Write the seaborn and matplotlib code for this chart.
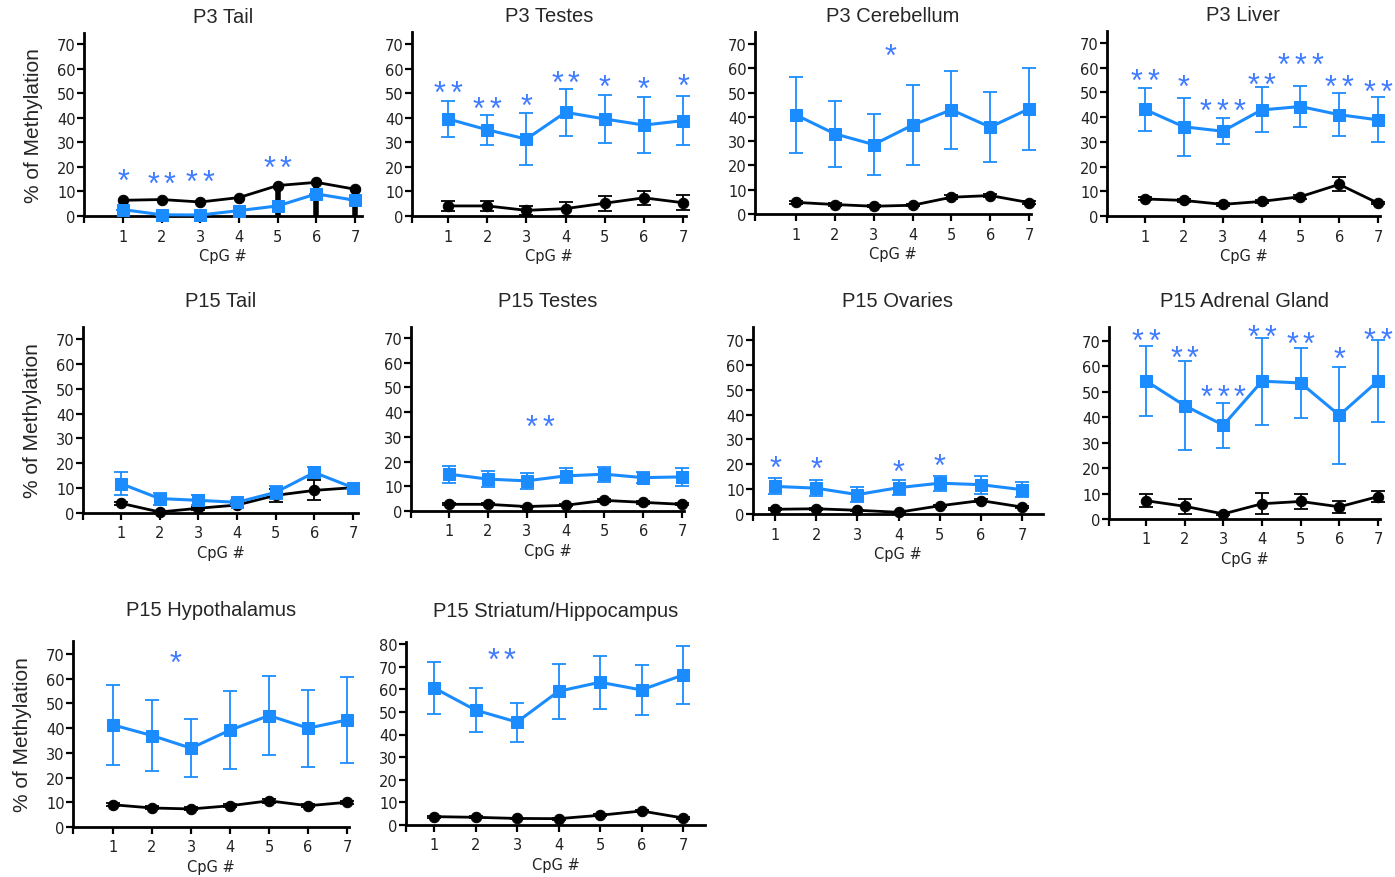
import numpy as np
import pandas as pd
import matplotlib
matplotlib.use("Agg")
import matplotlib.pyplot as plt
import seaborn as sns

sns.set_style("ticks")
plt.rcParams['font.family'] = ['DejaVu Sans']

# Colores
azul = '#1a8cff'
azul_estrella = '#3f7bff'
negro = 'black'

cpg = [1, 2, 3, 4, 5, 6, 7]

# ---------------- datos ----------------
# P3 Tail
p3_tail_azul = [2.6, 0.5, 0.4, 2.2, 4.1, 9.0, 6.4]
p3_tail_azul_err = [0, 0, 0, 0, 0, 0, 0]
p3_tail_negro = [6.4, 6.7, 5.7, 7.5, 12.4, 13.7, 10.9]
p3_tail_negro_err = [0, 0, 0, 0, 0, 0, 0]
p3_tail_negro_err_inf = [0, 0, 0, 0, 12.4, 13.7, 10.9]
p3_tail_est_x = [1, 2, 3, 5]
p3_tail_est_y = [17.9, 16.3, 17.1, 22.8]
p3_tail_est = ['*', '**', '**', '**']

# P3 Testes
p3_testes_azul = [39.5, 35.1, 31.3, 42.2, 39.5, 37.0, 38.8]
p3_testes_azul_err = [7.2, 6.1, 10.5, 9.5, 9.7, 11.4, 10.1]
p3_testes_negro = [4.1, 4.1, 2.3, 3.0, 5.2, 7.4, 5.4]
p3_testes_negro_err = [2.2, 2.2, 1.8, 2.9, 3.1, 2.8, 3.0]
p3_testes_est_x = [1, 2, 3, 4, 5, 6, 7]
p3_testes_est_y = [53.4, 47.0, 48.3, 57.5, 56.1, 55.2, 56.4]
p3_testes_est = ['**', '**', '*', '**', '*', '*', '*']

# P3 Cerebellum
p3_cereb_azul = [40.8, 33.0, 28.6, 36.6, 42.9, 35.8, 43.3]
p3_cereb_azul_err = [15.7, 13.7, 12.7, 16.6, 16.1, 14.3, 16.9]
p3_cereb_negro = [4.8, 3.9, 3.2, 3.6, 6.9, 7.6, 4.7]
p3_cereb_negro_err = [0.5, 0.5, 0.5, 0.5, 0.8, 0.8, 0.5]
p3_cereb_est_x = [3.44]
p3_cereb_est_y = [68.4]
p3_cereb_est = ['*']

# P3 Liver
p3_liver_azul = [43.1, 36.1, 34.3, 42.9, 44.3, 41.0, 38.9]
p3_liver_azul_err = [8.7, 11.7, 5.3, 9.1, 8.2, 8.7, 9.1]
p3_liver_negro = [6.9, 6.3, 4.7, 5.9, 7.8, 12.8, 5.2]
p3_liver_negro_err = [0.6, 0.6, 0.5, 0.6, 0.8, 2.8, 0.5]
p3_liver_est_x = [1, 2, 3, 4, 5, 6, 7]
p3_liver_est_y = [57.9, 55.7, 46.0, 56.5, 64.5, 55.5, 53.7]
p3_liver_est = ['**', '*', '***', '**', '***', '**', '**']

# P15 Tail
p15_tail_azul = [11.8, 5.8, 5.1, 4.3, 8.3, 16.3, 10.2]
p15_tail_azul_err = [4.7, 2.4, 2.0, 1.0, 2.7, 2.3, 0.5]
p15_tail_negro = [3.9, 0.4, 1.9, 3.2, 7.1, 9.1, 10.2]
p15_tail_negro_err = [0.5, 0.3, 0.5, 0.5, 2.5, 4.0, 0.5]
p15_tail_est_x = []
p15_tail_est_y = []
p15_tail_est = []

# P15 Testes
p15_testes_azul = [14.9, 12.9, 12.2, 14.2, 14.9, 13.5, 13.8]
p15_testes_azul_err = [3.4, 3.1, 3.1, 3.0, 3.1, 2.3, 3.5]
p15_testes_negro = [2.7, 2.7, 1.8, 2.3, 4.3, 3.5, 2.7]
p15_testes_negro_err = [0.4, 0.4, 0.3, 0.4, 0.5, 0.5, 0.4]
p15_testes_est_x = [3.35]
p15_testes_est_y = [37.5]
p15_testes_est = ['**']

# P15 Ovaries
p15_ovarios_azul = [11.1, 10.4, 7.8, 10.6, 12.4, 11.8, 9.8]
p15_ovarios_azul_err = [3.2, 3.3, 2.9, 3.1, 3.0, 3.6, 2.9]
p15_ovarios_negro = [1.9, 2.1, 1.5, 0.7, 3.3, 5.4, 2.8]
p15_ovarios_negro_err = [0.4, 0.4, 0.3, 0.3, 0.5, 0.6, 0.4]
p15_ovarios_est_x = [1, 2, 4, 5]
p15_ovarios_est_y = [22.1, 21.7, 20.5, 22.8]
p15_ovarios_est = ['*', '*', '*', '*']

# P15 Adrenal Gland
p15_adrenal_azul = [54.3, 44.6, 36.9, 54.2, 53.5, 40.8, 54.3]
p15_adrenal_azul_err = [13.6, 17.6, 8.8, 17.1, 13.6, 19.0, 16.0]
p15_adrenal_negro = [7.2, 5.0, 2.0, 6.0, 6.9, 4.8, 8.8]
p15_adrenal_negro_err = [2.6, 2.9, 0.3, 4.1, 2.9, 2.4, 2.1]
p15_adrenal_est_x = [1, 2, 3, 4, 5, 6, 7]
p15_adrenal_est_y = [73.3, 66.7, 51.3, 74.8, 72.2, 66.3, 73.7]
p15_adrenal_est = ['**', '**', '***', '**', '**', '*', '**']

# P15 Hypothalamus
p15_hipot_azul = [41.3, 37.0, 31.9, 39.2, 45.1, 40.0, 43.3]
p15_hipot_azul_err = [16.1, 14.5, 11.6, 15.9, 15.9, 15.6, 17.4]
p15_hipot_negro = [9.0, 7.7, 7.3, 8.6, 10.6, 8.6, 10.0]
p15_hipot_negro_err = [0.6, 0.6, 0.6, 0.6, 0.8, 0.6, 0.6]
p15_hipot_est_x = [2.59]
p15_hipot_est_y = [70.0]
p15_hipot_est = ['*']

# P15 Striatum/Hippocampus
p15_estriado_azul = [60.6, 50.8, 45.5, 59.1, 63.1, 59.7, 66.3]
p15_estriado_azul_err = [11.4, 9.6, 8.6, 12.1, 11.7, 11.2, 12.8]
p15_estriado_negro = [3.7, 3.4, 2.9, 2.8, 4.3, 6.2, 3.1]
p15_estriado_negro_err = [0.4, 0.4, 0.4, 0.4, 0.5, 0.6, 0.4]
p15_estriado_est_x = [2.63]
p15_estriado_est_y = [76.8]
p15_estriado_est = ['**']

# Tabla de paneles + ubicación en píxeles (izq, der, tick1, tick7, y0, yref_px, arriba, yref)
paneles = [
    dict(titulo='P3 Tail', azul=p3_tail_azul, azul_err=p3_tail_azul_err,
         negro=p3_tail_negro, negro_err=p3_tail_negro_err, negro_err_inf=p3_tail_negro_err_inf,
         ex=p3_tail_est_x, ey=p3_tail_est_y, et=p3_tail_est,
         caja=(84, 362, 123, 355, 217, 45, 34, 70), pad=8, ylab=True),
    dict(titulo='P3 Testes', azul=p3_testes_azul, azul_err=p3_testes_azul_err,
         negro=p3_testes_negro, negro_err=p3_testes_negro_err,
         ex=p3_testes_est_x, ey=p3_testes_est_y, et=p3_testes_est,
         caja=(412, 686, 448, 683, 217, 45, 33, 70), pad=8, ylab=False),
    dict(titulo='P3 Cerebellum', azul=p3_cereb_azul, azul_err=p3_cereb_azul_err,
         negro=p3_cereb_negro, negro_err=p3_cereb_negro_err,
         ex=p3_cereb_est_x, ey=p3_cereb_est_y, et=p3_cereb_est,
         caja=(755, 1031, 796, 1029, 215, 45, 33, 70), pad=8, ylab=False),
    dict(titulo='P3 Liver', azul=p3_liver_azul, azul_err=p3_liver_azul_err,
         negro=p3_liver_negro, negro_err=p3_liver_negro_err,
         ex=p3_liver_est_x, ey=p3_liver_est_y, et=p3_liver_est,
         caja=(1107, 1380, 1145, 1378, 217, 44, 32, 70), pad=8, ylab=False),
    dict(titulo='P15 Tail', azul=p15_tail_azul, azul_err=p15_tail_azul_err,
         negro=p15_tail_negro, negro_err=p15_tail_negro_err,
         ex=p15_tail_est_x, ey=p15_tail_est_y, et=p15_tail_est,
         caja=(83, 358, 121, 353, 514, 340, 328, 70), pad=15, ylab=True),
    dict(titulo='P15 Testes', azul=p15_testes_azul, azul_err=p15_testes_azul_err,
         negro=p15_testes_negro, negro_err=p15_testes_negro_err,
         ex=p15_testes_est_x, ey=p15_testes_est_y, et=p15_testes_est,
         caja=(411, 684, 449, 682, 512, 339, 328, 70), pad=15, ylab=False),
    dict(titulo='P15 Ovaries', azul=p15_ovarios_azul, azul_err=p15_ovarios_azul_err,
         negro=p15_ovarios_negro, negro_err=p15_ovarios_negro_err,
         ex=p15_ovarios_est_x, ey=p15_ovarios_est_y, et=p15_ovarios_est,
         caja=(753, 1043, 775, 1022, 515, 341, 328, 70), pad=15, ylab=False),
    dict(titulo='P15 Adrenal Gland', azul=p15_adrenal_azul, azul_err=p15_adrenal_azul_err,
         negro=p15_adrenal_negro, negro_err=p15_adrenal_negro_err,
         ex=p15_adrenal_est_x, ey=p15_adrenal_est_y, et=p15_adrenal_est,
         caja=(1109, 1380, 1146, 1378, 520, 342, 328, 70), pad=15, ylab=False),
    dict(titulo='P15 Hypothalamus', azul=p15_hipot_azul, azul_err=p15_hipot_azul_err,
         negro=p15_hipot_negro, negro_err=p15_hipot_negro_err,
         ex=p15_hipot_est_x, ey=p15_hipot_est_y, et=p15_hipot_est,
         caja=(73, 349, 113, 347, 828, 655, 642, 70), pad=19, ylab=True),
    dict(titulo='P15 Striatum/Hippocampus', azul=p15_estriado_azul, azul_err=p15_estriado_azul_err,
         negro=p15_estriado_negro, negro_err=p15_estriado_negro_err,
         ex=p15_estriado_est_x, ey=p15_estriado_est_y, et=p15_estriado_est,
         caja=(406, 705, 434, 683, 826, 645, 643, 80), pad=19, ylab=False),
]

W, H = 1395, 878
fig = plt.figure(figsize=(W / 100, H / 100), dpi=100)

tam_estrella = 22
paso_estrella = 12  # puntos entre asteriscos

for p in paneles:
    izq, der, t1, t7, y0, yr_px, arriba, yref = p['caja']
    ax = fig.add_axes([izq / W, 1 - y0 / H, (der - izq) / W, (y0 - arriba) / H])
    s = (t7 - t1) / 6
    xmin = 1 - (t1 - izq) / s
    xmax = 7 + (der - t7) / s
    ymax = yref * (y0 - arriba) / (y0 - yr_px)

    # barras de error negras
    if 'negro_err_inf' in p:
        ax.errorbar(cpg, p['negro'], yerr=[p['negro_err_inf'], p['negro_err']], fmt='none',
                    ecolor=negro, elinewidth=4, capsize=0, zorder=2, clip_on=False)
    else:
        ax.errorbar(cpg, p['negro'], yerr=p['negro_err'], fmt='none', ecolor=negro,
                    elinewidth=1.3, capsize=5, capthick=1.3, zorder=2, clip_on=False)
    sns.lineplot(x=cpg, y=p['negro'], color=negro, marker='o', markersize=7.5,
                 markeredgecolor=negro, linewidth=2, ax=ax, zorder=3, clip_on=False)

    # serie azul
    ax.errorbar(cpg, p['azul'], yerr=p['azul_err'], fmt='none', ecolor=azul,
                elinewidth=1.3, capsize=5, capthick=1.3, zorder=4, clip_on=False)
    sns.lineplot(x=cpg, y=p['azul'], color=azul, marker='s', markersize=8.5,
                 markeredgecolor=azul, linewidth=2.2, ax=ax, zorder=5, clip_on=False)

    # asteriscos de significancia (uno por uno para controlar el espaciado)
    for x, y, t in zip(p['ex'], p['ey'], p['et']):
        n = len(t)
        for i in range(n):
            dx = (i - (n - 1) / 2) * paso_estrella
            ax.annotate('*', xy=(x, y), xytext=(dx, -0.57 * tam_estrella),
                        textcoords='offset points', ha='center', va='baseline',
                        fontsize=tam_estrella, color=azul_estrella,
                        family='Liberation Sans', annotation_clip=False)

    ax.set_xlim(xmin, xmax)
    ax.set_ylim(0, ymax)
    ax.set_xticks([xmin] + cpg)
    ax.set_xticklabels([''] + [str(c) for c in cpg])
    ax.set_yticks(np.arange(0, yref + 1, 10))
    ax.tick_params(axis='both', direction='out', length=5, width=1.6, labelsize=10.5,
                   color='black', labelcolor='#222222')
    ax.tick_params(axis='x', pad=4)
    ax.tick_params(axis='y', pad=1)
    sns.despine(ax=ax)
    for lado in ['left', 'bottom']:
        ax.spines[lado].set_linewidth(2)
        ax.spines[lado].set_color('black')

    ax.set_title(p['titulo'], fontsize=14.5, family='Liberation Sans', pad=p['pad'])
    ax.set_xlabel('CpG #', fontsize=10.5, labelpad=3, color='#222222')
    if p['ylab']:
        ax.set_ylabel('% of Methylation', fontsize=15, family='Liberation Sans', labelpad=10)
    else:
        ax.set_ylabel('')

plt.savefig('out.png', dpi=100)
